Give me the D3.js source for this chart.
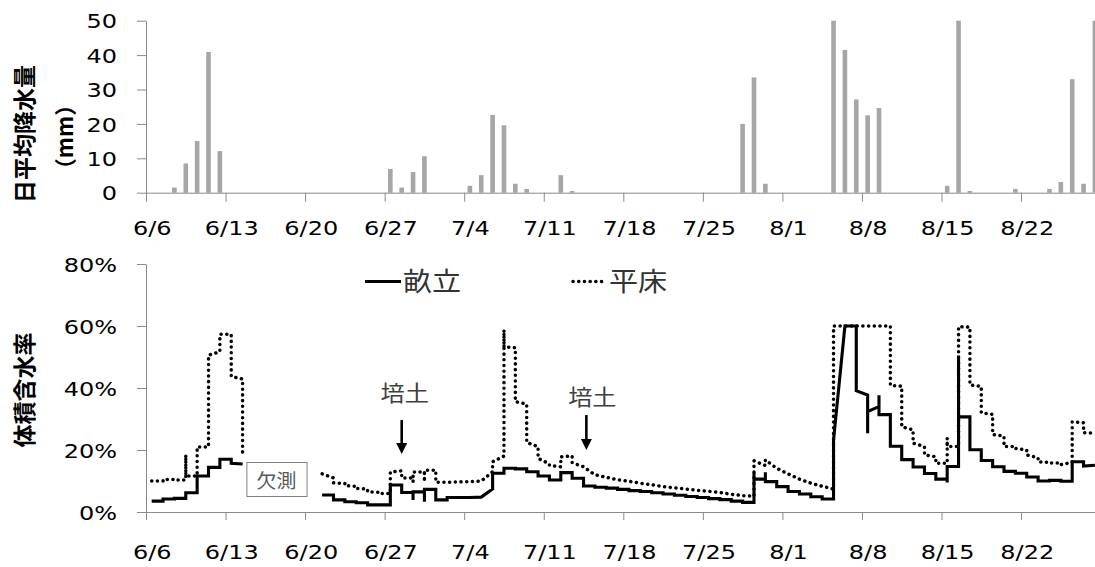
<!DOCTYPE html>
<html>
<head>
<meta charset="utf-8">
<script src="https://cdn.jsdelivr.net/npm/d3@7"></script>
<style>
  html, body { margin: 0; padding: 0; background: #fff; }
  svg { display: block; }
</style>
</head>
<body>
<svg id="chart" width="1095" height="567"></svg>
<script>
// ---- data -------------------------------------------------------------
const tickLabels = ["6/6","6/13","6/20","6/27","7/4","7/11","7/18","7/25","8/1","8/8","8/15","8/22"];
const axisEnd = "8/29";

// daily mean precipitation (mm)
const rainDates = ["6/8","6/9","6/10","6/11","6/12",
  "6/27","6/28","6/29","6/30","7/4","7/5","7/6","7/7","7/8","7/9","7/12","7/13",
  "7/28","7/29","7/30","8/5","8/6","8/7","8/8","8/9",
  "8/15","8/16","8/17","8/21","8/24","8/25","8/26","8/27","8/28"];
const rainMm = [1.5, 8.5, 15.0, 40.9, 12.1,
  6.9, 1.5, 6.0, 10.6, 2.0, 5.1, 22.6, 19.6, 2.6, 1.1, 5.1, 0.5,
  20.0, 33.5, 2.6, 50.0, 41.5, 27.1, 22.5, 24.6,
  2.0, 50.0, 0.5, 1.1, 1.1, 3.1, 33.0, 2.6, 50.0];
const rainTicks = [0, 10, 20, 30, 40, 50];

// volumetric water content (%), readings of each day from 6/6 on; null = not measured
const soilStart = "6/6";
const ridgeReadings = [ // 畝立
  [3.5],[3.5,4.2],[4.2,4.4],[4.4,6.2],[6.2,11.6],[11.6,14.4],[14.4,17.0],[17.0,15.7],[15.5],
  null,null,null,null,null,null,
  [5.5],[5.5,3.9],[3.9,3.3],[3.3,3.0],[3.0,2.3],[2.3],[2.3,8.7],[8.7,6.3],[6.3,3.9,6.5],
  [6.5,3.3,7.3],[7.3,3.9],[3.9,4.7],[4.7],[4.7],[4.8],[7.4,12.5],[12.5,14.1],[14.1,13.9],
  [13.9,13.0],[13.0,11.6],[11.6,10.3],[10.3,12.7],[12.7,10.9],[10.9,8.4],[8.4,8.0],[8.0,7.7],
  [7.7,7.3],[7.3,6.9],[6.9,6.6],[6.6,6.2],[6.2,5.8],[5.8,5.4],[5.4,5.0],[5.0,4.7],[4.7,4.3],
  [4.3,4.0],[4.0,3.5],[3.5,3.1],[3.1,12.7,10.6],[10.6,12.8,9.8],[9.8,8.2],[8.2,6.6],[6.6,5.8],
  [5.8,4.9],[4.9,4.2],[4.2,23.2],[60.0],[60.0,39.1],[37.7,25.4,32.4],[34.0,37.7,31.4],
  [31.4,21.2],[21.2,16.9],[16.9,14.5],[14.5,12.4],[12.4,10.6],[10.6,9.5,14.7],[14.7,50.5,30.7],
  [30.7,20.1],[20.1,16.6],[16.6,14.6],[14.6,13.1],[13.1,12.5],[12.5,11.3],[11.3,10.0],
  [10.0,10.2],[10.2,9.9],[9.9,16.2],[16.2,14.8],[15.1]
];
const flatReadings = [ // 平床
  [10.0],[10.0,10.5],[10.5,10.3],[10.3,18.4,11.6],[11.6,21.0],[21.0,50.6],[51.7,57.3],[57.3,43.7],[42.9,17.8],
  null,null,null,null,null,null,
  [12.3],[11.0,9.4],[9.2,8.5],[8.3,7.6],[7.4,6.5],[6.4,6.0],[6.0,12.9],[13.3,11.0],[11.0,9.8,12.9],
  [12.9,9.8,13.5],[13.5,9.6],[9.6],[9.7],[9.8],[10.0],[13.0,16.2],[18.0,58.7,53.3],[53.0,35.6],
  [34.8,22.4],[21.1,17.3],[15.5,15.0],[14.6,17.8],[18.1,15.9],[14.6],[12.0],[11.2],
  [10.4],[9.9],[9.3],[8.8],[8.2],[7.8],[7.4],[7.0],[6.7],
  [6.3],[5.7],[5.3],[5.1,16.5],[15.0,16.8],[14.1],[12.3],[10.6],
  [9.3],[8.3],[7.4,60.0],[60.0],[60.0],[60.0],[60.0],
  [60.0,40.8],[40.6,27.5],[26.5,22.2],[21.1,18.4],[17.8,15.7],[15.7,23.8,21.1],[21.1,59.8],
  [59.6,41.0],[40.5,32.0],[31.5,25.0],[24.5,21.1],[21.1,20.5],[20.0,18.4],[17.5,16.2],
  [16.0,15.8],[15.8,15.3],[16.0,29.1],[28.8,25.6],[25.4]
];
const moistureTicks = [0, 20, 40, 60, 80];

// ---- helpers ----------------------------------------------------------
const YEAR = 2013;
const parseMD = s => { const [m, d] = s.split("/").map(Number); return new Date(YEAR, m - 1, d); };
const noon = d => d3.timeHour.offset(d, 12);
const fmtMD = d => `${d.getMonth() + 1}/${d.getDate()}`;

const AXIS = "#898989";
const NUM_FONT = "'DejaVu Sans', sans-serif";
const JP_FONT = "'Noto Sans CJK JP', 'Noto Sans', sans-serif";
const STRETCH = 1.2;

const svg = d3.select("#chart");

const x = d3.scaleTime()
  .domain([parseMD(tickLabels[0]), parseMD(axisEnd)])
  .range([146, 1100.6]);
const halfDay = (x(parseMD("6/7")) - x(parseMD("6/6"))) / 2;
const tickDates = tickLabels.map(parseMD);

function styleXAxis(g, labelOffset) {
  g.select(".domain").attr("stroke", AXIS);
  g.selectAll(".tick line").attr("stroke", AXIS);
  g.selectAll(".tick text")
    .attr("y", 0).attr("dy", null)
    .attr("dominant-baseline", "central")
    .attr("transform", `translate(${halfDay},${labelOffset}) scale(${STRETCH},1)`)
    .attr("font-family", NUM_FONT).attr("font-size", 20).attr("fill", "#000");
}
function styleYAxis(g) {
  g.select(".domain").attr("stroke", AXIS);
  g.selectAll(".tick line").attr("stroke", AXIS);
  g.selectAll(".tick text")
    .attr("x", -29 / STRETCH).attr("dy", null)
    .attr("dominant-baseline", "central")
    .attr("transform", `scale(${STRETCH},1)`)
    .attr("font-family", NUM_FONT).attr("font-size", 20).attr("fill", "#000");
}

// ---- precipitation panel -------------------------------------------
const yRain = d3.scaleLinear().domain([0, 50]).range([192.7, 20.7]);

svg.append("g")
  .selectAll("rect")
  .data(rainDates.map((d, i) => ({ date: parseMD(d), mm: rainMm[i] })))
  .join("rect")
  .attr("x", d => x(noon(d.date)) - 2.3)
  .attr("width", 4.6)
  .attr("y", d => yRain(Math.min(d.mm, 50)))
  .attr("height", d => yRain(0) - yRain(Math.min(d.mm, 50)))
  .attr("fill", "#a6a6a6");

svg.append("g")
  .attr("transform", `translate(0,${yRain(0)})`)
  .call(d3.axisBottom(x).tickValues(tickDates).tickFormat(fmtMD).tickSize(9).tickSizeOuter(0))
  .call(g => styleXAxis(g, 35.5));

svg.append("g")
  .attr("transform", `translate(${x.range()[0]},0)`)
  .call(d3.axisLeft(yRain).tickValues(rainTicks).tickSize(9).tickSizeOuter(0))
  .call(styleYAxis);

svg.append("text")
  .attr("transform", "translate(23,134) rotate(-90)")
  .attr("text-anchor", "middle").attr("dominant-baseline", "central")
  .attr("font-family", JP_FONT).attr("font-weight", "bold").attr("font-size", 23)
  .text("日平均降水量");
svg.append("text")
  .attr("transform", "translate(63,137) rotate(-90)")
  .attr("text-anchor", "middle").attr("dominant-baseline", "central")
  .attr("font-family", JP_FONT).attr("font-weight", "bold").attr("font-size", 22)
  .text("（mm）");

// ---- soil moisture panel ----------------------------------------------
const yPct = d3.scaleLinear().domain([0, 80]).range([512, 264]);

svg.append("g")
  .attr("transform", `translate(0,${yPct(0)})`)
  .call(d3.axisBottom(x).tickValues(tickDates).tickFormat(fmtMD).tickSize(8).tickSizeOuter(0))
  .call(g => styleXAxis(g, 40));

svg.append("g")
  .attr("transform", `translate(${x.range()[0]},0)`)
  .call(d3.axisLeft(yPct).tickValues(moistureTicks).tickFormat(v => v + "%").tickSize(9).tickSizeOuter(0))
  .call(styleYAxis);

svg.append("text")
  .attr("transform", "translate(23,390) rotate(-90)")
  .attr("text-anchor", "middle").attr("dominant-baseline", "central")
  .attr("font-family", JP_FONT).attr("font-weight", "bold").attr("font-size", 23)
  .text("体積含水率");

// every reading of a day sits on that day's position; a null day breaks the line
function toPoints(readings) {
  const t0 = parseMD(soilStart);
  const pts = [];
  readings.forEach((day, i) => {
    if (day === null) { pts.push(null); return; }
    const t = noon(d3.timeDay.offset(t0, i));
    day.forEach(v => pts.push({ t, v }));
  });
  return pts;
}
const soilLine = d3.line()
  .defined(p => p !== null)
  .x(p => x(p.t))
  .y(p => yPct(p.v));

svg.append("defs").append("clipPath").attr("id", "plot")
  .append("rect").attr("x", 140).attr("y", 250).attr("width", 960).attr("height", 270);

const plot = svg.append("g").attr("clip-path", "url(#plot)");
plot.append("path")
  .attr("d", soilLine(toPoints(ridgeReadings)))
  .attr("fill", "none").attr("stroke", "#000").attr("stroke-width", 3.1)
  .attr("stroke-linejoin", "miter");
plot.append("path")
  .attr("d", soilLine(toPoints(flatReadings)))
  .attr("fill", "none").attr("stroke", "#000").attr("stroke-width", 3.5)
  .attr("stroke-linecap", "round").attr("stroke-dasharray", "0.1 5.6");

// legend
const legend = svg.append("g");
legend.append("line").attr("x1", 365).attr("x2", 401).attr("y1", 281.5).attr("y2", 281.5)
  .attr("stroke", "#000").attr("stroke-width", 3.1);
legend.append("text").attr("transform", "translate(403,280) scale(1.12,1)")
  .attr("dominant-baseline", "central")
  .attr("font-family", JP_FONT).attr("font-size", 26).attr("fill", "#333")
  .text("畝立");
legend.append("line").attr("x1", 573).attr("x2", 606).attr("y1", 281.5).attr("y2", 281.5)
  .attr("stroke", "#000").attr("stroke-width", 3.5)
  .attr("stroke-linecap", "round").attr("stroke-dasharray", "0.1 5.6");
legend.append("text").attr("transform", "translate(609,280) scale(1.12,1)")
  .attr("dominant-baseline", "central")
  .attr("font-family", JP_FONT).attr("font-size", 26).attr("fill", "#333")
  .text("平床");

// 培土 (hilling) markers
const hilling = [
  { t: noon(parseMD("6/28")), tip: 18.7, len: 34, labelDy: -63, labelDx: 3 },
  { t: d3.timeHour.offset(parseMD("7/14"), 18), tip: 20.0, len: 35, labelDy: -55, labelDx: 6 }
];
hilling.forEach(h => {
  const hx = x(h.t), hy = yPct(h.tip);
  svg.append("line").attr("x1", hx).attr("x2", hx).attr("y1", hy - h.len).attr("y2", hy - 9)
    .attr("stroke", "#000").attr("stroke-width", 2.6);
  svg.append("path")
    .attr("d", `M${hx - 5.5},${hy - 11} L${hx + 5.5},${hy - 11} L${hx},${hy} Z`)
    .attr("fill", "#000");
  svg.append("text")
    .attr("transform", `translate(${hx + h.labelDx},${hy + h.labelDy}) scale(1.1,1)`)
    .attr("text-anchor", "middle").attr("dominant-baseline", "central")
    .attr("font-family", JP_FONT).attr("font-size", 22).attr("fill", "#404040")
    .text("培土");
});

// 欠測 (missing data) note over the gap
const gapFrom = d3.timeHour.offset(parseMD("6/14"), 20);
const gapTo = d3.timeHour.offset(parseMD("6/20"), 3);
svg.append("rect")
  .attr("x", x(gapFrom) + 0.5).attr("y", 462.5)
  .attr("width", x(gapTo) - x(gapFrom)).attr("height", 34)
  .attr("fill", "#fff").attr("stroke", "#7f7f7f").attr("stroke-width", 1);
svg.append("text")
  .attr("transform", `translate(${(x(gapFrom) + x(gapTo)) / 2},480) scale(1.05,1)`)
  .attr("text-anchor", "middle").attr("dominant-baseline", "central")
  .attr("font-family", JP_FONT).attr("font-size", 19).attr("fill", "#595959")
  .text("欠測");
</script>
</body>
</html>
